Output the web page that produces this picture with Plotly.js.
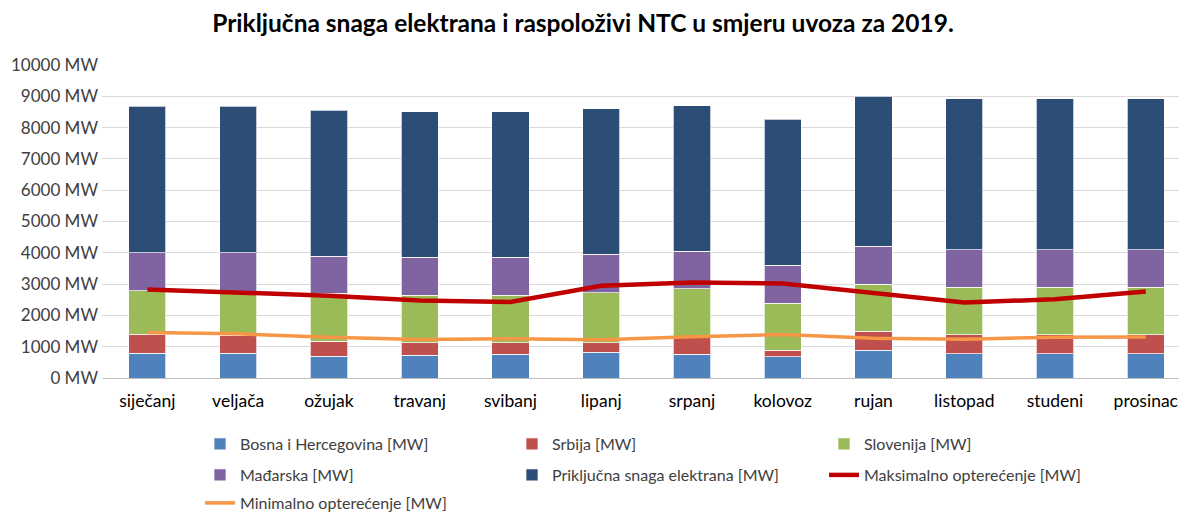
<!DOCTYPE html>
<html>
<head>
<meta charset="utf-8">
<script src="https://cdn.plot.ly/plotly-3.0.1.min.js"></script>
<style>html,body{margin:0;padding:0;background:#fff;}#chart{width:1179px;height:513px;}</style>
</head>
<body>
<div id="chart"></div>
<script>
const months = ["siječanj","veljača","ožujak","travanj","svibanj","lipanj","srpanj","kolovoz","rujan","listopad","studeni","prosinac"];
const bih = [790, 790, 690, 730, 760, 820, 760, 680, 880, 780, 780, 780];
const srbija = [600, 580, 490, 400, 370, 310, 580, 210, 610, 600, 600, 600];
const slovenija = [1400, 1400, 1520, 1520, 1520, 1600, 1510, 1500, 1500, 1520, 1520, 1520];
const madjarska = [1210, 1230, 1190, 1210, 1210, 1230, 1200, 1210, 1220, 1190, 1190, 1190];
const prikljucna = [4680, 4680, 4670, 4640, 4640, 4650, 4650, 4670, 4790, 4830, 4830, 4830];
const maksimalno = [2830, 2730, 2630, 2480, 2430, 2950, 3050, 3020, 2705, 2410, 2515, 2760];
const minimalno = [1450, 1410, 1300, 1230, 1255, 1220, 1320, 1390, 1270, 1240, 1300, 1310];

const FONT = "Lato, 'Open Sans', sans-serif";
const edge = {color: 'rgba(255,255,255,0.7)', width: 1};

function bar(name, y, color, legend) {
  return {type: 'bar', name: name, x: months, y: y, marker: {color: color, line: edge}, legend: legend};
}

const data = [
  bar('Bosna i Hercegovina [MW]', bih, '#4F81BD', 'legend'),
  bar('Srbija [MW]', srbija, '#C0504D', 'legend'),
  bar('Slovenija [MW]', slovenija, '#9BBB59', 'legend'),
  bar('Mađarska [MW]', madjarska, '#8064A2', 'legend2'),
  bar('Priključna snaga elektrana [MW]', prikljucna, '#2C4D75', 'legend2'),
  {type: 'scatter', mode: 'lines', name: 'Maksimalno opterećenje [MW]', x: months, y: maksimalno,
   line: {color: '#C00000', width: 4.5}, legend: 'legend2'},
  {type: 'scatter', mode: 'lines', name: 'Minimalno opterećenje [MW]', x: months, y: minimalno,
   line: {color: '#F79646', width: 3.5}, legend: 'legend3'}
];

const legendBase = {
  orientation: 'h', xref: 'container', yref: 'container', xanchor: 'left', yanchor: 'middle',
  x: 200/1179, entrywidth: 267, entrywidthmode: 'pixels', bgcolor: 'rgba(0,0,0,0)',
  font: {family: FONT, size: 16, color: '#404040'}, traceorder: 'normal', itemwidth: 30
};

const layout = {
  width: 1179, height: 513,
  margin: {l: 102, r: 0, t: 64.5, b: 134.5, pad: 0},
  paper_bgcolor: '#ffffff', plot_bgcolor: '#ffffff',
  barmode: 'stack', bargap: 0.59,
  font: {family: FONT, color: '#404040'},
  title: {text: '<b>Priključna snaga elektrana i raspoloživi NTC u smjeru uvoza za 2019.</b>',
          font: {family: FONT, size: 24.5, color: '#000000'}, x: 583/1179, xanchor: 'center', y: 1 - 23/513, yanchor: 'middle'},
  xaxis: {type: 'category', range: [-0.5, 11.366], showgrid: false, showline: true, linecolor: '#BFBFBF', linewidth: 1,
          ticks: '', ticklabelstandoff: 7, tickfont: {family: FONT, size: 17.5, color: '#000000'}, fixedrange: true},
  yaxis: {range: [0, 10000], dtick: 1000, tickformat: 'd', ticksuffix: ' MW', showgrid: true, gridcolor: '#D9D9D9', gridwidth: 1,
          zeroline: false, showline: false, ticks: '', ticklabelstandoff: 3, tickfont: {family: FONT, size: 17, color: '#404040'}, fixedrange: true},
  legend: Object.assign({}, legendBase, {y: 1 - 444/513}),
  legend2: Object.assign({}, legendBase, {y: 1 - 475/513}),
  legend3: Object.assign({}, legendBase, {y: 1 - 503/513}),
  showlegend: true, hovermode: false
};

Plotly.newPlot('chart', data, layout, {displayModeBar: false, staticPlot: true});
</script>
</body>
</html>
